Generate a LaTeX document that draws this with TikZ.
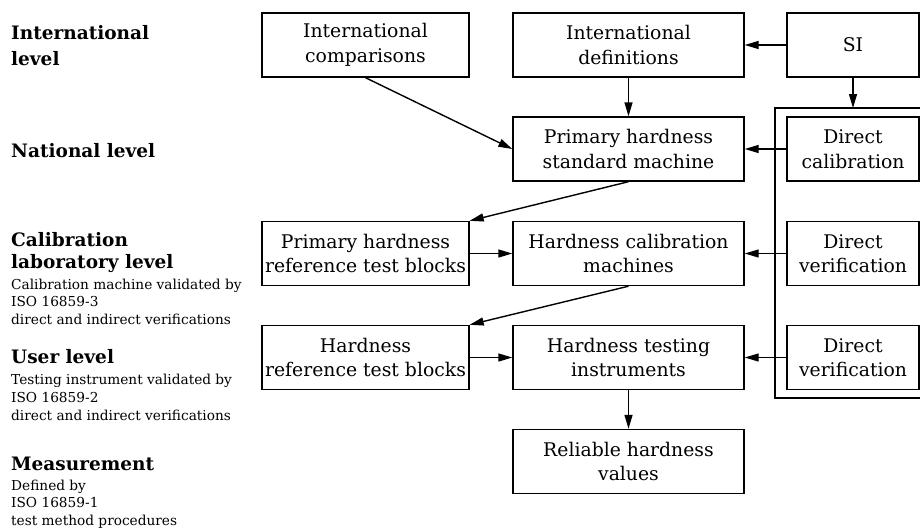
\documentclass[tikz,border=0pt]{standalone}
\usepackage{fontspec}
\setmainfont{DejaVu Serif}
\usetikzlibrary{arrows.meta}
\begin{document}
\begin{tikzpicture}[x=1pt,y=-1pt,
  box/.style={draw, line width=1.4pt, inner sep=0pt, align=center,
    font=\fontsize{18.8}{24.5}\selectfont},
  midbox/.style={box, minimum width=231pt, minimum height=64pt},
  leftbox/.style={box, minimum width=207pt, minimum height=64pt},
  rightbox/.style={box, minimum width=132pt, minimum height=64pt},
  arr/.style={line width=1.4pt, -{Triangle[length=14pt,width=8pt]}},
  lvl/.style={anchor=base west, inner sep=0pt, font=\bfseries\fontsize{18.5}{22}\selectfont},
  sub/.style={anchor=base west, inner sep=0pt, font=\fontsize{13.7}{16}\selectfont},
]
\useasboundingbox (0,0) rectangle (920,527);

% level headings and notes
\node[lvl] (h1a) at (11,40) {International};
\node[lvl] (h1b) at (11,65) {level};
\node[lvl] (h2)  at (11,157) {National level};
\node[lvl] (h3a) at (11,246) {Calibration};
\node[lvl] (h3b) at (11,268) {laboratory level};
\node[sub] (n3a) at (11,289) {Calibration machine validated by};
\node[sub] (n3b) at (11,306.5) {ISO 16859-3};
\node[sub] (n3c) at (11,324) {direct and indirect verifications};
\node[lvl] (h4)  at (11,363) {User level};
\node[sub] (n4a) at (11,384) {Testing instrument validated by};
\node[sub] (n4b) at (11,402) {ISO 16859-2};
\node[sub] (n4c) at (11,420) {direct and indirect verifications};
\node[lvl] (h5)  at (11,470) {Measurement};
\node[sub] (n5a) at (11,490) {Defined by};
\node[sub] (n5b) at (11,507.5) {ISO 16859-1};
\node[sub] (n5c) at (11,525) {test method procedures};

% boxes
\node[leftbox]  (icomp) at (365.5,45)   {International\\comparisons};
\node[midbox]   (idef)  at (628.5,45)   {International\\definitions};
\node[rightbox] (si)    at (853,45)     {SI};
\node[midbox]   (psm)   at (628.5,149)  {Primary hardness\\standard machine};
\node[rightbox] (dcal)  at (853,149)    {Direct\\calibration};
\node[leftbox]  (prb)   at (365.5,253.5){Primary hardness\\reference test blocks};
\node[midbox]   (hcm)   at (628.5,253.5){Hardness calibration\\machines};
\node[rightbox] (dv1)   at (853,253.5)  {Direct\\verification};
\node[leftbox]  (hrb)   at (365.5,357.5){Hardness\\reference test blocks};
\node[midbox]   (hti)   at (628.5,357.5){Hardness testing\\instruments};
\node[rightbox] (dv2)   at (853,357.5)  {Direct\\verification};
\node[midbox]   (rhv)   at (628.5,461.5){Reliable hardness\\values};

% frame around the direct calibration and verification boxes
\coordinate (ftr) at (921,108);
\coordinate (ftl) at (775,108);
\coordinate (fbl) at (775,398);
\coordinate (fbr) at (921,398);
\coordinate (ftin) at (si.south |- ftl);
\draw[line width=1.4pt] (ftr) -- (ftl) -- (fbl) -- (fbr);

% connectors
\draw[arr] (si) -- (idef);
\draw[arr] (si.south) -- (ftin);
\draw[arr] (idef) -- (psm);
\draw[arr] (icomp.south) -- (psm.west);
\draw[arr] (dcal) -- (psm);
\draw[arr] (psm.south) -- (prb.north east);
\draw[arr] (prb) -- (hcm);
\draw[arr] (dv1) -- (hcm);
\draw[arr] (hcm.south) -- (hrb.north east);
\draw[arr] (hrb) -- (hti);
\draw[arr] (dv2) -- (hti);
\draw[arr] (hti) -- (rhv);
\end{tikzpicture}
\end{document}
